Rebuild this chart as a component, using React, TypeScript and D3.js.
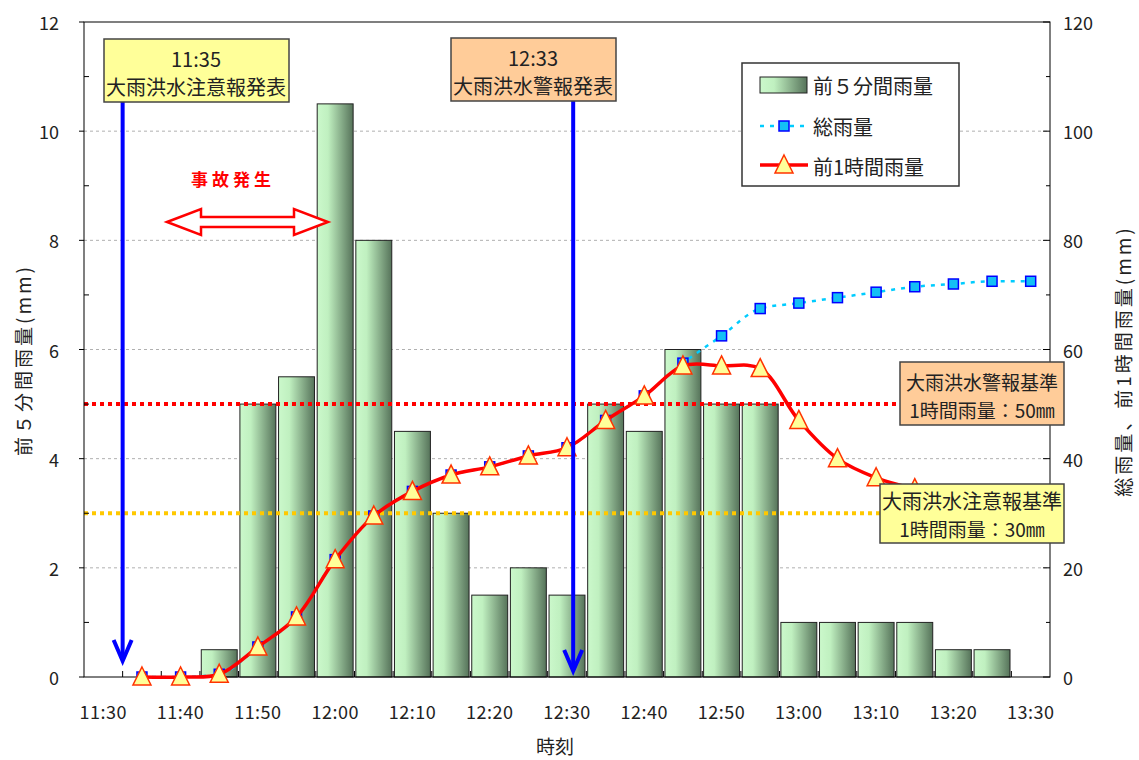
import React from 'react';
import * as d3 from 'd3';

const categories = ["11:30","11:35","11:40","11:45","11:50","11:55","12:00","12:05","12:10","12:15","12:20","12:25","12:30","12:35","12:40","12:45","12:50","12:55","13:00","13:05","13:10","13:15","13:20","13:25","13:30"];
const rain5: (number | null)[] = [null, 0, 0, 0.5, 5, 5.5, 10.5, 8, 4.5, 3, 1.5, 2, 1.5, 5, 4.5, 6, 5, 5, 1, 1, 1, 1, 0.5, 0.5, null];
const totalRain: (number | null)[] = [null, 0, 0, 0.5, 5.5, 11, 21.5, 29.5, 34, 37, 38.5, 40.5, 42, 47, 51.5, 57.5, 62.5, 67.5, 68.5, 69.5, 70.5, 71.5, 72, 72.5, 72.5];
const hourRain: (number | null)[] = [null, 0, 0, 0.5, 5.5, 11, 21.5, 29.5, 34, 37, 38.5, 40.5, 42, 47, 51.5, 57, 57, 56.5, 47, 40, 36.5, 34.5, null, null, null];
const leftTicks = [0, 2, 4, 6, 8, 10, 12];
const leftMinor = [1, 3, 5, 7, 9, 11];
const rightTicks = [0, 20, 40, 60, 80, 100, 120];
const rightMinor = [10, 30, 50, 70, 90, 110];
const xLabels = ["11:30","11:40","11:50","12:00","12:10","12:20","12:30","12:40","12:50","13:00","13:10","13:20","13:30"];
const warningLevel = 50;
const advisoryLevel = 30;

const FONT = "'Noto Sans CJK JP', 'Noto Sans', sans-serif";
const W = 1139, H = 760;
const P = { left: 84, right: 1050, top: 22, bottom: 677 };

export default function App() {
  const x = d3.scaleBand<string>().domain(categories).range([P.left, P.right]).padding(0);
  const bw = x.bandwidth();
  const yL = d3.scaleLinear().domain([0, 12]).range([P.bottom, P.top]);
  const yR = d3.scaleLinear().domain([0, 120]).range([P.bottom, P.top]);
  const cx = (c: string) => (x(c) as number) + bw / 2;
  const barW = bw * 0.93;

  const pairsTotal = categories.map((c, i) => [c, totalRain[i]] as [string, number | null]);
  const pairsHour = categories.map((c, i) => [c, hourRain[i]] as [string, number | null]);

  const totalLine = d3.line<[string, number | null]>()
    .defined(d => d[1] != null)
    .x(d => cx(d[0]))
    .y(d => yR(d[1] as number))
    .curve(d3.curveMonotoneX);
  const hourLine = d3.line<[string, number | null]>()
    .defined(d => d[1] != null)
    .x(d => cx(d[0]))
    .y(d => yR(d[1] as number))
    .curve(d3.curveCatmullRom.alpha(0.5));

  const tri = "M0,-10 L9,8 L-9,8 Z";

  const arrow1X = x("11:35") as number;
  const arrow2X = (x("12:30") as number) + bw * 0.66;

  const dblArrow = (x0: number, x1: number, yc: number) => {
    const hl = 34, hh = 13, sh = 5;
    return `M${x0},${yc} L${x0 + hl},${yc - hh} L${x0 + hl},${yc - sh} L${x1 - hl},${yc - sh} L${x1 - hl},${yc - hh} L${x1},${yc} L${x1 - hl},${yc + hh} L${x1 - hl},${yc + sh} L${x0 + hl},${yc + sh} L${x0 + hl},${yc + hh} Z`;
  };

  return (
    <svg width={W} height={H} style={{ position: 'absolute', left: 0, top: 0, background: '#fff' }} fontFamily={FONT}>
      <defs>
        <linearGradient id="barGrad" x1="0" x2="1" y1="0" y2="0">
          <stop offset="0" stopColor="#cbf8cb" />
          <stop offset="0.3" stopColor="#c0f0c0" />
          <stop offset="1" stopColor="#56735a" />
        </linearGradient>
      </defs>

      {/* gridlines */}
      {leftTicks.filter(t => t > 0 && t < 12).map(t => (
        <line key={'g' + t} x1={P.left} x2={P.right} y1={yL(t)} y2={yL(t)} stroke="#b0b0b0" strokeWidth={1} strokeDasharray="3,3" />
      ))}

      {/* bars */}
      {categories.map((c, i) => {
        const v = rain5[i];
        if (!v) return null;
        return (
          <rect key={'b' + c} x={cx(c) - barW / 2} y={yL(v)} width={barW} height={yL(0) - yL(v)}
            fill="url(#barGrad)" stroke="#222" strokeWidth={1} />
        );
      })}

      {/* threshold lines */}
      <line x1={P.left} x2={P.right} y1={yR(warningLevel)} y2={yR(warningLevel)} stroke="#ff0000" strokeWidth={4} strokeDasharray="4,4" />
      <line x1={P.left} x2={P.right} y1={yR(advisoryLevel)} y2={yR(advisoryLevel)} stroke="#ffc800" strokeWidth={4} strokeDasharray="4,4" />

      {/* plot border */}
      <rect x={P.left} y={P.top} width={P.right - P.left} height={P.bottom - P.top} fill="none" stroke="#000" strokeWidth={1} />

      {/* x ticks */}
      {categories.slice(1).map(c => (
        <line key={'xt' + c} x1={x(c)} x2={x(c)} y1={P.bottom} y2={P.bottom - 6} stroke="#000" strokeWidth={1} />
      ))}
      {xLabels.map(l => (
        <text key={'xl' + l} x={cx(l)} y={711} textAnchor="middle" dominantBaseline="central" fontSize={18} letterSpacing={0.5} fill="#222">{l}</text>
      ))}

      {/* left axis */}
      {leftTicks.map(t => (
        <g key={'lt' + t}>
          <line x1={P.left - 5} x2={P.left} y1={yL(t)} y2={yL(t)} stroke="#000" />
          <text x={59} y={yL(t)} textAnchor="end" dominantBaseline="central" fontSize={18} fill="#222">{t}</text>
        </g>
      ))}
      {leftMinor.map(t => (
        <line key={'lm' + t} x1={P.left} x2={P.left + 5} y1={yL(t)} y2={yL(t)} stroke="#000" />
      ))}

      {/* right axis */}
      {rightTicks.map(t => (
        <g key={'rt' + t}>
          <line x1={P.right - 7} x2={P.right} y1={yR(t)} y2={yR(t)} stroke="#000" />
          <text x={1063} y={yR(t)} textAnchor="start" dominantBaseline="central" fontSize={18} fill="#222">{t}</text>
        </g>
      ))}
      {rightMinor.map(t => (
        <line key={'rm' + t} x1={P.right - 4} x2={P.right} y1={yR(t)} y2={yR(t)} stroke="#000" />
      ))}

      {/* axis titles */}
      <text transform="translate(22,360) rotate(-90)" textAnchor="middle" dominantBaseline="central" fontSize={19} letterSpacing={3} fill="#222">前５分間雨量(mm)</text>
      <text transform="translate(1122,361) rotate(-90)" textAnchor="middle" dominantBaseline="central" fontSize={19} letterSpacing={3} fill="#222">総雨量、前1時間雨量(mm)</text>
      <text x={555} y={745} textAnchor="middle" dominantBaseline="central" fontSize={19} fill="#222">時刻</text>

      {/* total rain */}
      <path d={totalLine(pairsTotal) || ''} fill="none" stroke="#00ccff" strokeWidth={2.5} strokeDasharray="4,6" />
      {pairsTotal.filter(d => d[1] != null).map(d => (
        <rect key={'s' + d[0]} x={cx(d[0]) - 5} y={yR(d[1] as number) - 5} width={10} height={10} fill="#14c0f5" stroke="#0000ff" strokeWidth={1.5} />
      ))}

      {/* 1 hour rain */}
      <path d={hourLine(pairsHour) || ''} fill="none" stroke="#ff0000" strokeWidth={3.5} />
      {pairsHour.filter(d => d[1] != null).map(d => (
        <path key={'t' + d[0]} d={tri} transform={`translate(${cx(d[0])},${yR(d[1] as number)})`} fill="#ffff99" stroke="#ff3300" strokeWidth={1.5} />
      ))}

      {/* accident */}
      <text x={233} y={178} textAnchor="middle" dominantBaseline="central" fontSize={17} fontWeight="bold" letterSpacing={4} fill="#ff0000">事故発生</text>
      <path d={dblArrow(167, 328, 222)} fill="#fff" stroke="#ff0000" strokeWidth={2.5} strokeLinejoin="miter" />

      {/* threshold boxes */}
      <rect x={900} y={362} width={164} height={63} fill="#ffcc99" stroke="#444" strokeWidth={1.5} />
      <text x={982} y={381} textAnchor="middle" dominantBaseline="central" fontSize={19} fill="#222">大雨洪水警報基準</text>
      <text x={982} y={409} textAnchor="middle" dominantBaseline="central" fontSize={19} fill="#222">1時間雨量：50㎜</text>
      <rect x={880} y={484} width={184} height={59} fill="#ffff99" stroke="#444" strokeWidth={1.5} />
      <text x={972} y={500} textAnchor="middle" dominantBaseline="central" fontSize={20} fill="#222">大雨洪水注意報基準</text>
      <text x={972} y={528} textAnchor="middle" dominantBaseline="central" fontSize={19} fill="#222">1時間雨量：30㎜</text>

      {/* arrows */}
      <line x1={arrow1X} x2={arrow1X} y1={102} y2={658} stroke="#0000ff" strokeWidth={4} />
      <path d={`M${arrow1X - 9},${640} L${arrow1X},${661} L${arrow1X + 9},${640}`} fill="none" stroke="#0000ff" strokeWidth={4} strokeLinejoin="miter" />
      <line x1={arrow2X} x2={arrow2X} y1={101} y2={668} stroke="#0000ff" strokeWidth={4} />
      <path d={`M${arrow2X - 9},${650} L${arrow2X},${671} L${arrow2X + 9},${650}`} fill="none" stroke="#0000ff" strokeWidth={4} strokeLinejoin="miter" />

      {/* announcement boxes */}
      <rect x={104} y={39} width={185} height={63} fill="#ffff99" stroke="#444" strokeWidth={1.5} />
      <text x={196} y={58} textAnchor="middle" dominantBaseline="central" fontSize={20} fill="#222">11:35</text>
      <text x={196} y={86} textAnchor="middle" dominantBaseline="central" fontSize={20} fill="#222">大雨洪水注意報発表</text>
      <rect x={451} y={38} width={165} height={63} fill="#ffcc99" stroke="#444" strokeWidth={1.5} />
      <text x={533} y={57} textAnchor="middle" dominantBaseline="central" fontSize={20} fill="#222">12:33</text>
      <text x={533} y={85} textAnchor="middle" dominantBaseline="central" fontSize={20} fill="#222">大雨洪水警報発表</text>

      {/* legend */}
      <rect x={742} y={63} width={217} height={123} fill="#fff" stroke="#333" strokeWidth={1.5} />
      <rect x={760} y={77} width={47} height={16} fill="url(#barGrad)" stroke="#222" strokeWidth={1} />
      <text x={813} y={85} dominantBaseline="central" fontSize={20} fill="#222">前５分間雨量</text>
      <line x1={760} x2={808} y1={126} y2={126} stroke="#00ccff" strokeWidth={2.5} strokeDasharray="4,6" />
      <rect x={779} y={121} width={10} height={10} fill="#14c0f5" stroke="#0000ff" strokeWidth={1.5} />
      <text x={813} y={126} dominantBaseline="central" fontSize={20} fill="#222">総雨量</text>
      <line x1={760} x2={808} y1={165} y2={165} stroke="#ff0000" strokeWidth={3.5} />
      <path d={tri} transform="translate(784,165)" fill="#ffff99" stroke="#ff3300" strokeWidth={1.5} />
      <text x={813} y={166} dominantBaseline="central" fontSize={20} fill="#222">前1時間雨量</text>
    </svg>
  );
}
